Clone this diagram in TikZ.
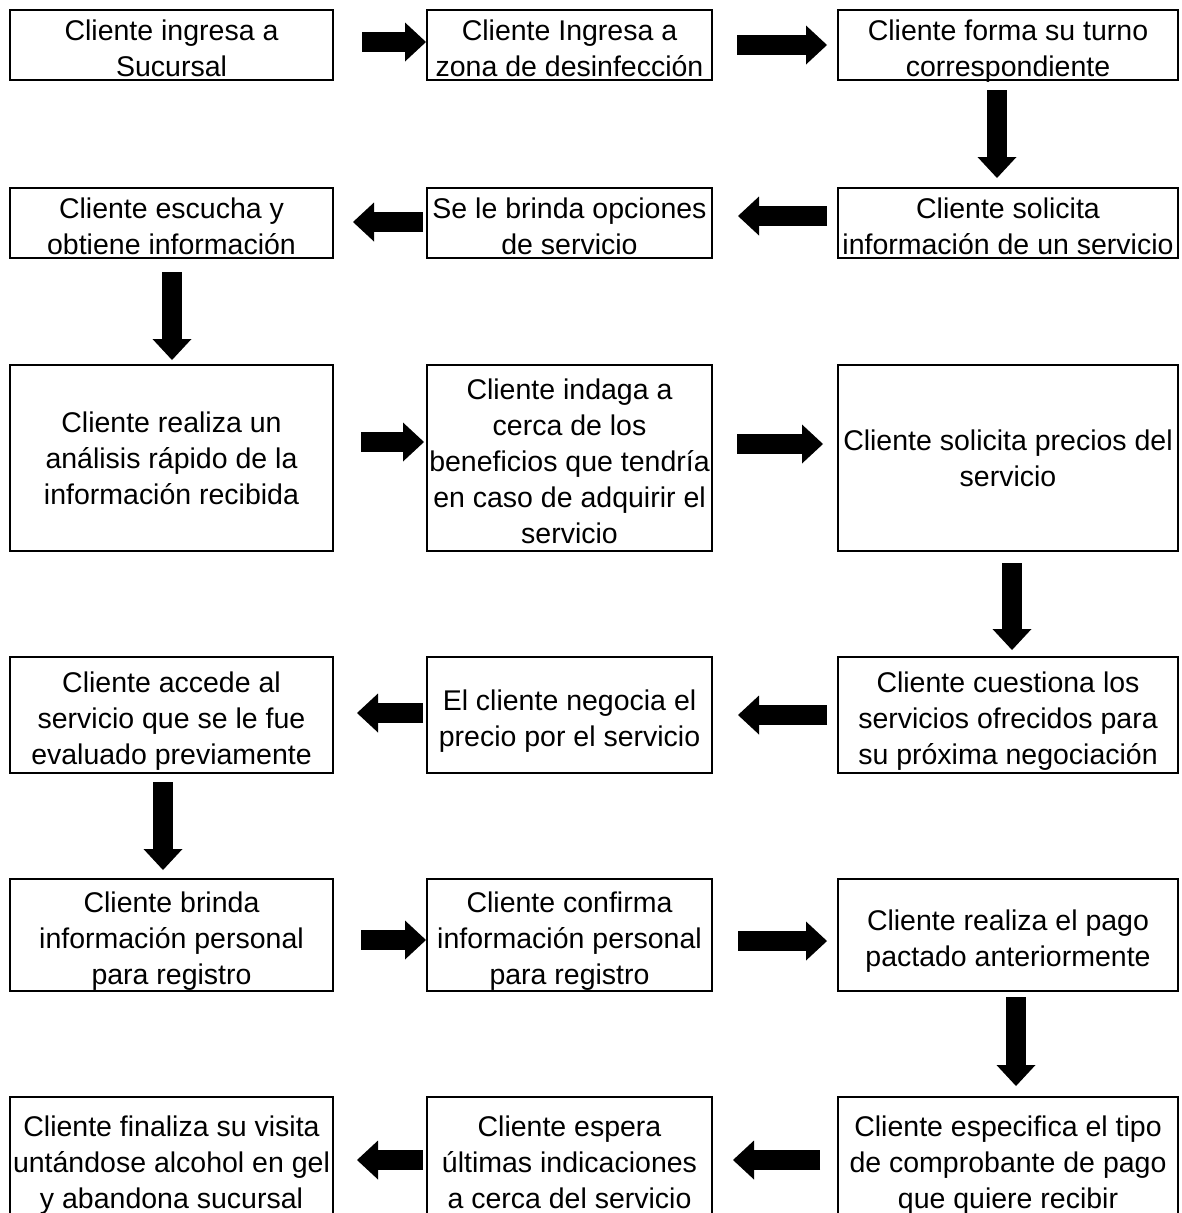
\documentclass[tikz,border=0pt]{standalone}
\usepackage{fontspec}
\setmainfont{Liberation Sans}
\usetikzlibrary{arrows.meta}
\begin{document}
\begin{tikzpicture}[x=1pt,y=-1pt,
  stepbox/.style={draw=black, line width=2pt, rectangle, inner sep=0pt, outer sep=0pt,
    align=center, fill=white, font=\fontsize{28.5}{36}\selectfont,
    text depth=0pt},
  two/.style={text height=62pt},
  three/.style={text height=98pt},
  five/.style={text height=170pt},
  colA/.style={minimum width=323pt},
  colB/.style={minimum width=285pt},
  colC/.style={minimum width=340pt},
  blockarrow/.style={line width=20pt, draw=black,
    -{Triangle[length=21pt,width=39pt,line width=0pt]}},
]
\clip (0,0) rectangle (1181,1213);
\fill[white] (0,0) rectangle (1181,1213);

% row 1
\node[stepbox, two, colA, minimum height=70pt] (b1) at (171.5,45) {Cliente ingresa a\\Sucursal};
\node[stepbox, two, colB, minimum height=70pt] (b2) at (569.5,45) {Cliente Ingresa a\\zona de desinfección};
\node[stepbox, two, colC, minimum height=70pt] (b3) at (1008,45) {Cliente forma su turno\\correspondiente};
% row 2
\node[stepbox, two, colA, minimum height=70pt] (b4) at (171.5,223) {Cliente escucha y\\obtiene información};
\node[stepbox, two, colB, minimum height=70pt] (b5) at (569.5,223) {Se le brinda opciones\\de servicio};
\node[stepbox, two, colC, minimum height=70pt] (b6) at (1008,223) {Cliente solicita\\información de un servicio};
% row 3
\node[stepbox, three, colA, minimum height=186pt, text height=92pt] (b7) at (171.5,458) {Cliente realiza un\\análisis rápido de la\\información recibida};
\node[stepbox, five, colB, minimum height=186pt] (b8) at (569.5,458) {Cliente indaga a\\cerca de los\\beneficios que tendría\\en caso de adquirir el\\servicio};
\node[stepbox, two, colC, minimum height=186pt, text height=57pt] (b9) at (1008,458) {Cliente solicita precios del\\servicio};
% row 4
\node[stepbox, three, colA, minimum height=116pt] (b10) at (171.5,715) {Cliente accede al\\servicio que se le fue\\evaluado previamente};
\node[stepbox, two, colB, minimum height=116pt] (b11) at (569.5,715) {El cliente negocia el\\precio por el servicio};
\node[stepbox, three, colC, minimum height=116pt] (b12) at (1008,715) {Cliente cuestiona los\\servicios ofrecidos para\\su próxima negociación};
% row 5
\node[stepbox, three, colA, minimum height=112pt] (b13) at (171.5,935) {Cliente brinda\\información personal\\para registro};
\node[stepbox, three, colB, minimum height=112pt] (b14) at (569.5,935) {Cliente confirma\\información personal\\para registro};
\node[stepbox, two, colC, minimum height=112pt] (b15) at (1008,935) {Cliente realiza el pago\\pactado anteriormente};
% row 6 (runs past the lower edge)
\node[stepbox, three, colA, minimum height=124pt] (b16) at (171.5,1159) {Cliente finaliza su visita\\untándose alcohol en gel\\y abandona sucursal};
\node[stepbox, three, colB, minimum height=124pt] (b17) at (569.5,1159) {Cliente espera\\últimas indicaciones\\a cerca del servicio};
\node[stepbox, three, colC, minimum height=124pt] (b18) at (1008,1159) {Cliente especifica el tipo\\de comprobante de pago\\que quiere recibir};

% horizontal block arrows
\draw[blockarrow, shorten <=29pt, shorten >=1pt] ([yshift=3pt]b1.east) -- ([yshift=3pt]b2.west);
\draw[blockarrow, shorten <=25pt, shorten >=11pt] (b2.east) -- (b3.west);
\draw[blockarrow, shorten <=4pt, shorten >=20pt] ([yshift=1pt]b5.west) -- ([yshift=1pt]b4.east);
\draw[blockarrow, shorten <=11pt, shorten >=26pt] ([yshift=7pt]b6.west) -- ([yshift=7pt]b5.east);
\draw[blockarrow, shorten <=28pt, shorten >=3pt] ([yshift=16pt]b7.east) -- ([yshift=16pt]b8.west);
\draw[blockarrow, shorten <=25pt, shorten >=15pt] ([yshift=14pt]b8.east) -- ([yshift=14pt]b9.west);
\draw[blockarrow, shorten <=4pt, shorten >=24pt] ([yshift=2pt]b11.west) -- ([yshift=2pt]b10.east);
\draw[blockarrow, shorten <=11pt, shorten >=26pt] (b12.west) -- (b11.east);
\draw[blockarrow, shorten <=28pt, shorten >=1pt] ([yshift=-5pt]b13.east) -- ([yshift=-5pt]b14.west);
\draw[blockarrow, shorten <=26pt, shorten >=11pt] ([yshift=-6pt]b14.east) -- ([yshift=-6pt]b15.west);
\draw[blockarrow, shorten <=4pt, shorten >=24pt] ([yshift=-1pt]b17.west) -- ([yshift=-1pt]b16.east);
\draw[blockarrow, shorten <=18pt, shorten >=21pt] ([yshift=-1pt]b18.west) -- ([yshift=-1pt]b17.east);

% vertical block arrows
\draw[blockarrow, shorten <=10pt, shorten >=10pt] ([xshift=-11pt]b3.south) -- ([xshift=-11pt]b6.north);
\draw[blockarrow, shorten <=14pt, shorten >=5pt] ([xshift=0.5pt]b4.south) -- ([xshift=0.5pt]b7.north);
\draw[blockarrow, shorten <=12pt, shorten >=7pt] ([xshift=4pt]b9.south) -- ([xshift=4pt]b12.north);
\draw[blockarrow, shorten <=9pt, shorten >=9pt] ([xshift=-8.5pt]b10.south) -- ([xshift=-8.5pt]b13.north);
\draw[blockarrow, shorten <=6pt, shorten >=11pt] ([xshift=8pt]b15.south) -- ([xshift=8pt]b18.north);
\end{tikzpicture}
\end{document}
